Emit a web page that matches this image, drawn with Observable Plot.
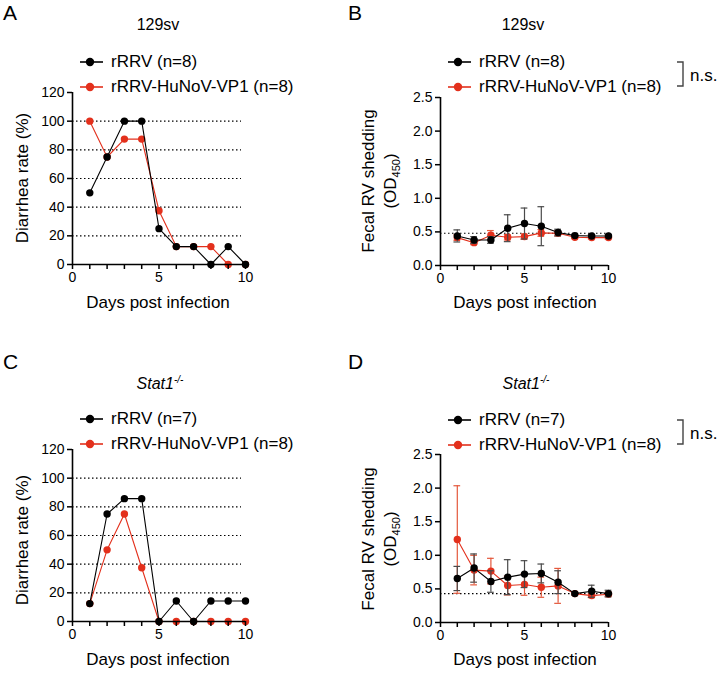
<!DOCTYPE html>
<html>
<head>
<meta charset="utf-8">
<script src="https://cdn.jsdelivr.net/npm/d3@7"></script>
<script src="https://cdn.jsdelivr.net/npm/@observablehq/plot@0.6"></script>
<style>
  html, body { margin: 0; padding: 0; background: #fff; }
  #root { position: relative; width: 722px; height: 673px; background: #fff;
          font-family: "Liberation Sans", Arial, Helvetica, sans-serif; color: #000; overflow: hidden; }
  .abs { position: absolute; white-space: nowrap; }
  .c { transform: translate(-50%, -50%); }
  .rot { transform: translate(-50%, -50%) rotate(-90deg); text-align: center; }
  .letter { font-size: 21px; }
  .title { font-size: 16px; }
  .xlab { font-size: 17px; }
  .ylab { font-size: 17px; line-height: 22px; }
  .leg { font-size: 17px; display: flex; align-items: center; height: 24px; }
  .leg svg { margin-right: 8px; flex: none; }
</style>
</head>
<body>
<div id="root"></div>
<script>
// ---------------- DATA ----------------
const days = [1, 2, 3, 4, 5, 6, 7, 8, 9, 10];
const seriesNames = ["rRRV", "rRRV-HuNoV-VP1"];

// Panel A: 129sv, diarrhea rate (%)
const rateA_rRRV = [50, 75, 100, 100, 25, 12.5, 12.5, 0, 12.5, 0];
const rateA_VP1  = [100, 75, 87.5, 87.5, 37.5, 12.5, 12.5, 12.5, 0, 0];

// Panel C: Stat1-/-, diarrhea rate (%)
const rateC_rRRV = [12.5, 75, 85.7, 85.7, 0, 14.3, 0, 14.3, 14.3, 14.3];
const rateC_VP1  = [12.5, 50, 75, 37.5, 0, 0, 0, 0, 0, 0];

// Panel B: 129sv, fecal RV shedding (OD450), mean and SD
const odB_rRRV_mean = [0.44, 0.38, 0.38, 0.555, 0.625, 0.585, 0.49, 0.445, 0.44, 0.44];
const odB_rRRV_sd   = [0.09, 0.05, 0.05, 0.20, 0.23, 0.29, 0.05, 0.02, 0.02, 0.02];
const odB_VP1_mean  = [0.415, 0.34, 0.45, 0.42, 0.43, 0.485, 0.48, 0.42, 0.415, 0.415];
const odB_VP1_sd    = [0.04, 0.03, 0.07, 0.04, 0.04, 0.05, 0.04, 0.02, 0.02, 0.02];
const odB_baseline  = [0.48];

// Panel D: Stat1-/-, fecal RV shedding (OD450), mean and SD
const odD_rRRV_mean = [0.655, 0.81, 0.61, 0.675, 0.72, 0.73, 0.60, 0.43, 0.465, 0.43];
const odD_rRRV_sd   = [0.18, 0.21, 0.16, 0.26, 0.20, 0.14, 0.17, 0.02, 0.09, 0.05];
const odD_VP1_mean  = [1.235, 0.78, 0.765, 0.55, 0.565, 0.525, 0.545, 0.43, 0.40, 0.42];
const odD_VP1_sd    = [0.80, 0.22, 0.19, 0.14, 0.16, 0.15, 0.26, 0.02, 0.03, 0.03];
const odD_baseline  = [0.43];

const rateTicks = [0, 20, 40, 60, 80, 100, 120];
const rateGrid  = [20, 40, 60, 80, 100];
const odTicks   = [0, 0.5, 1.0, 1.5, 2.0, 2.5];
const dayTicks  = [0, 1, 2, 3, 4, 5, 6, 7, 8, 9, 10];
const dayLabels = [0, 5, 10];

// ---------------- STYLE ----------------
const BLACK = "#000000";
const RED = "#e3301c";
const ERR_BLACK = "#4a4a4a";
const ERR_RED = "#e4583c";
const FONT = '"Liberation Sans", Arial, Helvetica, sans-serif';

const root = document.getElementById("root");

function rowsOf(mean, sd) {
  return days.map((d, i) => ({ day: d, v: mean[i], sd: sd ? sd[i] : 0 }));
}

function panel(cfg) {
  const marks = [];
  if (cfg.grid) {
    marks.push(Plot.ruleY(cfg.grid, { stroke: "#000", strokeWidth: 1.1, strokeDasharray: "1.5,2.5", insetRight: 4 }));
  }
  if (cfg.baseline) {
    marks.push(Plot.ruleY(cfg.baseline, { stroke: "#000", strokeWidth: 1.1, strokeDasharray: "1.5,2.5", insetRight: -2 }));
  }
  for (const s of cfg.series) {
    const data = rowsOf(s.mean, s.sd);
    if (s.sd) {
      marks.push(Plot.ruleX(data, { x: "day", y1: d => d.v - d.sd, y2: d => d.v + d.sd, stroke: s.err, strokeWidth: 1.2 }));
      marks.push(Plot.ruleY(data, { y: d => d.v + d.sd, x1: d => d.day - 0.2, x2: d => d.day + 0.2, stroke: s.err, strokeWidth: 1.2 }));
      marks.push(Plot.ruleY(data, { y: d => d.v - d.sd, x1: d => d.day - 0.2, x2: d => d.day + 0.2, stroke: s.err, strokeWidth: 1.2 }));
    }
    marks.push(Plot.line(data, { x: "day", y: "v", stroke: s.color, strokeWidth: 1.1 }));
    marks.push(Plot.dot(data, { x: "day", y: "v", fill: s.color, r: 3.7 }));
  }
  marks.push(Plot.axisY({ ticks: cfg.yTicks, tickFormat: cfg.yFmt, tickSize: 5, tickPadding: 3, strokeWidth: 1.5, fontSize: 14, label: null }));
  marks.push(Plot.axisX({ ticks: dayTicks, tickFormat: d => dayLabels.includes(d) ? String(d) : "", tickSize: 5, tickPadding: 3, strokeWidth: 1.5, fontSize: 14, label: null }));
  marks.push(Plot.ruleX([0], { stroke: "#000", strokeWidth: 1.6 }));
  marks.push(Plot.ruleY([cfg.yDomain[0]], { stroke: "#000", strokeWidth: 1.6 }));

  const svg = Plot.plot({
    width: cfg.w, height: cfg.h,
    marginTop: cfg.mt, marginBottom: cfg.mb, marginLeft: cfg.ml, marginRight: cfg.mr,
    x: { domain: [0, 10] },
    y: { domain: cfg.yDomain },
    style: { fontFamily: FONT, fontSize: "14px", color: "#000", background: "transparent", overflow: "visible" },
    marks
  });
  svg.style.position = "absolute";
  svg.style.left = cfg.left + "px";
  svg.style.top = cfg.top + "px";
  root.appendChild(svg);
}

function addText(html, cls, x, y, extra) {
  const el = document.createElement("div");
  el.className = "abs " + cls;
  el.style.left = x + "px";
  el.style.top = y + "px";
  if (extra) Object.assign(el.style, extra);
  el.innerHTML = html;
  root.appendChild(el);
  return el;
}

function legend(x, yCenter, labels, colors) {
  labels.forEach((lab, i) => {
    const el = document.createElement("div");
    el.className = "abs leg";
    el.style.left = x + "px";
    el.style.top = (yCenter + i * 24.5 - 12) + "px";
    el.innerHTML = `<svg width="23" height="12" style="overflow:visible"><line x1="0" y1="6" x2="23" y2="6" stroke="${colors[i]}" stroke-width="1.6"/><circle cx="10" cy="6" r="4.2" fill="${colors[i]}"/></svg><span>${lab}</span>`;
    root.appendChild(el);
  });
}

function bracket(x, yTop, yBot) {
  const el = document.createElement("div");
  el.className = "abs";
  el.style.left = x + "px";
  el.style.top = yTop + "px";
  el.innerHTML = `<svg width="10" height="${yBot - yTop + 2}"><path d="M0,1 H6 V${yBot - yTop + 1} H0" fill="none" stroke="#444" stroke-width="1.4"/></svg>`;
  root.appendChild(el);
}

const labelsAB = [`${seriesNames[0]} (n=8)`, `${seriesNames[1]} (n=8)`];
const labelsCD = [`${seriesNames[0]} (n=7)`, `${seriesNames[1]} (n=8)`];
const colors = [BLACK, RED];

panel({ left: 0, top: 0, w: 361, h: 330, mt: 92, mb: 66, ml: 72, mr: 116,
  yDomain: [0, 120], yTicks: rateTicks, yFmt: d3.format("d"), grid: rateGrid,
  series: [ { mean: rateA_VP1, color: RED }, { mean: rateA_rRRV, color: BLACK } ] });
panel({ left: 361, top: 0, w: 361, h: 330, mt: 97, mb: 65, ml: 79, mr: 114,
  yDomain: [0, 2.5], yTicks: odTicks, yFmt: d3.format(".1f"), baseline: odB_baseline,
  series: [ { mean: odB_VP1_mean, sd: odB_VP1_sd, color: RED, err: ERR_RED },
            { mean: odB_rRRV_mean, sd: odB_rRRV_sd, color: BLACK, err: ERR_BLACK } ] });
panel({ left: 0, top: 330, w: 361, h: 343, mt: 119, mb: 52, ml: 72, mr: 116,
  yDomain: [0, 120], yTicks: rateTicks, yFmt: d3.format("d"), grid: rateGrid,
  series: [ { mean: rateC_VP1, color: RED }, { mean: rateC_rRRV, color: BLACK } ] });
panel({ left: 361, top: 330, w: 361, h: 343, mt: 124, mb: 51, ml: 79, mr: 114,
  yDomain: [0, 2.5], yTicks: odTicks, yFmt: d3.format(".1f"), baseline: odD_baseline,
  series: [ { mean: odD_VP1_mean, sd: odD_VP1_sd, color: RED, err: ERR_RED },
            { mean: odD_rRRV_mean, sd: odD_rRRV_sd, color: BLACK, err: ERR_BLACK } ] });

addText("A", "letter", 3, 1);
addText("B", "letter", 348, 1);
addText("C", "letter", 3, 350);
addText("D", "letter", 348, 350);

addText("129sv", "title c", 158, 25);
addText("129sv", "title c", 523, 25);
addText('<i>Stat1</i><sup style="font-size:10px;font-style:italic;vertical-align:6px">-/-</sup>', "title c", 160, 383);
addText('<i>Stat1</i><sup style="font-size:10px;font-style:italic;vertical-align:6px">-/-</sup>', "title c", 526, 383);

legend(80, 62, labelsAB, colors);
legend(448, 62, labelsAB, colors);
legend(80, 419, labelsCD, colors);
legend(448, 420, labelsCD, colors);

bracket(677, 61, 85);
addText("n.s.", "xlab", 690, 66);
bracket(677, 419, 443);
addText("n.s.", "xlab", 690, 424);

addText("Days post infection", "xlab c", 158, 303);
addText("Days post infection", "xlab c", 525, 303);
addText("Days post infection", "xlab c", 158, 660);
addText("Days post infection", "xlab c", 525, 660);

addText("Diarrhea rate (%)", "ylab rot", 23, 178);
addText("Diarrhea rate (%)", "ylab rot", 23, 540);
const odLabel = 'Fecal RV shedding<br>(OD<sub style="font-size:11px;vertical-align:-4px">450</sub>)';
addText(odLabel, "ylab rot", 382, 181);
addText(odLabel, "ylab rot", 382, 539);
</script>
</body>
</html>
